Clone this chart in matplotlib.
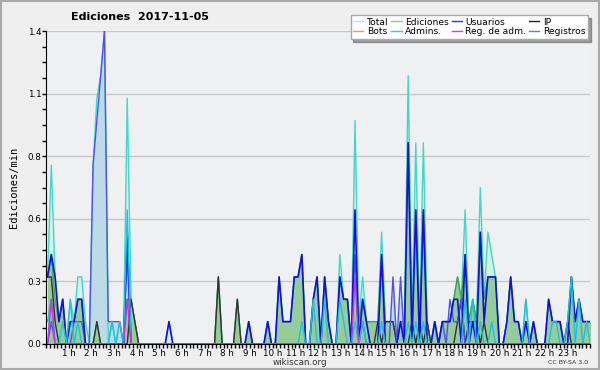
import numpy as np
import matplotlib.pyplot as plt
from matplotlib.lines import Line2D
from matplotlib.ticker import MultipleLocator, FixedLocator

# values per 10 minutes (edits/min), one row of 6 per hour
total = [0.3, 0.8, 0.3, 0.1, 0.2, 0.0,
         0.2, 0.1, 0.3, 0.3, 0.1, 0.0,
         0.8, 1.1, 1.2, 1.4, 0.0, 0.1,
         0.0, 0.1, 0.0, 1.1, 0.2, 0.1,
         0.0, 0.0, 0.0, 0.0, 0.0, 0.0,
         0.0, 0.0, 0.1, 0.0, 0.0, 0.0,
         0.0, 0.0, 0.0, 0.0, 0.0, 0.0,
         0.0, 0.0, 0.0, 0.3, 0.0, 0.0,
         0.0, 0.0, 0.2, 0.0, 0.0, 0.1,
         0.0, 0.0, 0.0, 0.0, 0.1, 0.0,
         0.0, 0.3, 0.1, 0.1, 0.1, 0.3,
         0.3, 0.4, 0.0, 0.0, 0.2, 0.3,
         0.0, 0.3, 0.1, 0.0, 0.0, 0.4,
         0.2, 0.2, 0.0, 1.0, 0.1, 0.3,
         0.1, 0.1, 0.1, 0.1, 0.5, 0.1,
         0.1, 0.1, 0.0, 0.1, 0.1, 1.2,
         0.1, 0.9, 0.1, 0.9, 0.1, 0.0,
         0.1, 0.0, 0.1, 0.1, 0.1, 0.2,
         0.3, 0.2, 0.6, 0.1, 0.2, 0.1,
         0.7, 0.2, 0.5, 0.4, 0.3, 0.0,
         0.0, 0.1, 0.3, 0.1, 0.1, 0.0,
         0.2, 0.0, 0.1, 0.0, 0.0, 0.0,
         0.2, 0.1, 0.1, 0.1, 0.0, 0.1,
         0.3, 0.1, 0.2, 0.1, 0.1, 0.1]

edits = [0.3, 0.4, 0.2, 0.1, 0.2, 0.0,
         0.1, 0.1, 0.2, 0.2, 0.0, 0.0,
         0.0, 0.1, 0.0, 0.0, 0.0, 0.0,
         0.0, 0.0, 0.0, 0.2, 0.2, 0.1,
         0.0, 0.0, 0.0, 0.0, 0.0, 0.0,
         0.0, 0.0, 0.0, 0.0, 0.0, 0.0,
         0.0, 0.0, 0.0, 0.0, 0.0, 0.0,
         0.0, 0.0, 0.0, 0.3, 0.0, 0.0,
         0.0, 0.0, 0.2, 0.0, 0.0, 0.1,
         0.0, 0.0, 0.0, 0.0, 0.1, 0.0,
         0.0, 0.3, 0.1, 0.1, 0.1, 0.3,
         0.3, 0.4, 0.0, 0.0, 0.2, 0.3,
         0.0, 0.3, 0.1, 0.0, 0.0, 0.3,
         0.2, 0.2, 0.0, 0.3, 0.1, 0.2,
         0.1, 0.1, 0.1, 0.1, 0.4, 0.1,
         0.1, 0.1, 0.0, 0.1, 0.1, 0.9,
         0.1, 0.6, 0.1, 0.6, 0.1, 0.0,
         0.1, 0.0, 0.1, 0.1, 0.1, 0.2,
         0.3, 0.2, 0.4, 0.1, 0.2, 0.1,
         0.5, 0.2, 0.3, 0.3, 0.3, 0.0,
         0.0, 0.1, 0.3, 0.1, 0.1, 0.0,
         0.1, 0.0, 0.1, 0.0, 0.0, 0.0,
         0.2, 0.1, 0.1, 0.1, 0.0, 0.1,
         0.3, 0.1, 0.2, 0.1, 0.1, 0.1]

users = [0.3, 0.4, 0.3, 0.1, 0.2, 0.0,
         0.1, 0.1, 0.2, 0.2, 0.0, 0.0,
         0.0, 0.0, 0.0, 0.0, 0.0, 0.0,
         0.0, 0.0, 0.0, 0.5, 0.0, 0.0,
         0.0, 0.0, 0.0, 0.0, 0.0, 0.0,
         0.0, 0.0, 0.1, 0.0, 0.0, 0.0,
         0.0, 0.0, 0.0, 0.0, 0.0, 0.0,
         0.0, 0.0, 0.0, 0.0, 0.0, 0.0,
         0.0, 0.0, 0.0, 0.0, 0.0, 0.1,
         0.0, 0.0, 0.0, 0.0, 0.1, 0.0,
         0.0, 0.3, 0.1, 0.1, 0.1, 0.3,
         0.3, 0.4, 0.0, 0.0, 0.2, 0.3,
         0.0, 0.3, 0.1, 0.0, 0.0, 0.3,
         0.2, 0.2, 0.0, 0.6, 0.0, 0.2,
         0.1, 0.0, 0.0, 0.0, 0.4, 0.0,
         0.0, 0.0, 0.0, 0.1, 0.0, 0.9,
         0.0, 0.6, 0.0, 0.6, 0.0, 0.0,
         0.1, 0.0, 0.1, 0.1, 0.1, 0.2,
         0.2, 0.0, 0.4, 0.0, 0.1, 0.0,
         0.5, 0.1, 0.3, 0.3, 0.3, 0.0,
         0.0, 0.1, 0.3, 0.1, 0.1, 0.0,
         0.1, 0.0, 0.1, 0.0, 0.0, 0.0,
         0.2, 0.1, 0.1, 0.1, 0.0, 0.0,
         0.3, 0.1, 0.2, 0.1, 0.1, 0.1]

ip = [0.3, 0.3, 0.1, 0.0, 0.0, 0.0,
      0.0, 0.0, 0.0, 0.0, 0.0, 0.0,
      0.0, 0.1, 0.0, 0.0, 0.0, 0.0,
      0.0, 0.0, 0.0, 0.0, 0.2, 0.1,
      0.0, 0.0, 0.0, 0.0, 0.0, 0.0,
      0.0, 0.0, 0.0, 0.0, 0.0, 0.0,
      0.0, 0.0, 0.0, 0.0, 0.0, 0.0,
      0.0, 0.0, 0.0, 0.3, 0.0, 0.0,
      0.0, 0.0, 0.2, 0.0, 0.0, 0.0,
      0.0, 0.0, 0.0, 0.0, 0.0, 0.0,
      0.0, 0.0, 0.0, 0.0, 0.0, 0.0,
      0.0, 0.0, 0.0, 0.0, 0.0, 0.0,
      0.0, 0.0, 0.0, 0.0, 0.0, 0.0,
      0.0, 0.0, 0.0, 0.0, 0.0, 0.0,
      0.0, 0.0, 0.0, 0.1, 0.0, 0.1,
      0.1, 0.1, 0.0, 0.0, 0.0, 0.0,
      0.1, 0.0, 0.1, 0.0, 0.1, 0.0,
      0.0, 0.0, 0.0, 0.0, 0.0, 0.0,
      0.1, 0.2, 0.0, 0.1, 0.1, 0.1,
      0.0, 0.1, 0.0, 0.0, 0.0, 0.0,
      0.0, 0.0, 0.0, 0.0, 0.0, 0.0,
      0.0, 0.0, 0.0, 0.0, 0.0, 0.0,
      0.0, 0.0, 0.0, 0.0, 0.0, 0.1,
      0.0, 0.0, 0.0, 0.0, 0.0, 0.0]

admins = [0.1, 0.2, 0.0, 0.0, 0.1, 0.0,
          0.2, 0.0, 0.1, 0.0, 0.0, 0.0,
          0.0, 0.0, 0.0, 0.0, 0.0, 0.1,
          0.0, 0.1, 0.0, 0.6, 0.0, 0.0,
          0.0, 0.0, 0.0, 0.0, 0.0, 0.0,
          0.0, 0.0, 0.0, 0.0, 0.0, 0.0,
          0.0, 0.0, 0.0, 0.0, 0.0, 0.0,
          0.0, 0.0, 0.0, 0.0, 0.0, 0.0,
          0.0, 0.0, 0.0, 0.0, 0.0, 0.0,
          0.0, 0.0, 0.0, 0.0, 0.0, 0.0,
          0.0, 0.0, 0.0, 0.0, 0.0, 0.0,
          0.0, 0.1, 0.0, 0.0, 0.2, 0.0,
          0.0, 0.2, 0.0, 0.0, 0.0, 0.2,
          0.1, 0.0, 0.0, 0.1, 0.0, 0.1,
          0.0, 0.0, 0.0, 0.0, 0.1, 0.0,
          0.0, 0.0, 0.0, 0.0, 0.0, 0.1,
          0.0, 0.1, 0.0, 0.1, 0.0, 0.0,
          0.0, 0.0, 0.0, 0.0, 0.0, 0.0,
          0.0, 0.0, 0.2, 0.0, 0.2, 0.0,
          0.1, 0.0, 0.0, 0.1, 0.0, 0.0,
          0.0, 0.0, 0.0, 0.0, 0.0, 0.0,
          0.2, 0.0, 0.0, 0.0, 0.0, 0.0,
          0.0, 0.1, 0.1, 0.0, 0.0, 0.1,
          0.3, 0.0, 0.2, 0.0, 0.1, 0.0]

regadm = [0.0, 0.2, 0.0, 0.0, 0.0, 0.0,
          0.0, 0.0, 0.0, 0.0, 0.0, 0.0,
          0.0, 0.0, 0.0, 0.0, 0.0, 0.0,
          0.0, 0.0, 0.0, 0.2, 0.0, 0.0] + [0.0] * 54 + \
         [0.0, 0.0, 0.0, 0.3, 0.0, 0.0] + [0.0] * 60

logs = [0.0, 0.1, 0.0, 0.0, 0.0, 0.0,
        0.0, 0.1, 0.1, 0.1, 0.0, 0.0,
        0.8, 1.0, 1.2, 1.4, 0.1, 0.1,
        0.1, 0.1, 0.0, 0.4, 0.0, 0.0] + [0.0] * 54 + \
       [0.0, 0.0, 0.0, 0.4, 0.0, 0.1] + [0.0] * 6 + \
       [0.0, 0.3, 0.0, 0.3, 0.0, 0.0] + [0.0] * 6 + \
       [0.0, 0.0, 0.1, 0.0, 0.2, 0.1, 0.1, 0.2, 0.0, 0.0, 0.0, 0.0] + [0.0] * 30

hour_labels = ["%d h" % h for h in range(1, 24)]

t = 0.066 + np.arange(len(total)) * 0.1675

fig = plt.figure(figsize=(6, 3.7), dpi=100, facecolor="#efefef")
ax = fig.add_axes([0.0767, 0.0703, 0.9066, 0.8457])
ax.set_facecolor("#eff0f2")

ax.fill_between(t, total, color="#d4f1ea", lw=0)
ax.plot(t, total, color="#40d8c8", lw=1)
ax.fill_between(t, logs, color="#bcdbe6", lw=0)
ax.fill_between(t, edits, color="#96cc98", lw=0)
ax.plot(t, edits, color="#3aa84a", lw=1)
ax.plot(t, ip, color="#333333", lw=1)
ax.plot(t, logs, color="#5050f0", lw=1)
ax.plot(t, users, color="#1010e0", lw=1.2)
ax.plot(t, admins, color="#20c0e0", lw=1)
ax.plot(t, regadm, color="#cc30e0", lw=1)

ax.set_xlim(0, 24)
ax.set_ylim(0, 1.4)
ax.yaxis.set_major_locator(FixedLocator([0, 0.28, 0.56, 0.84, 1.12, 1.4]))
ax.set_yticklabels(["0.0", "0.3", "0.6", "0.8", "1.1", "1.4"])
ax.yaxis.set_minor_locator(MultipleLocator(0.07))
ax.set_xticks(range(1, 24))
ax.set_xticklabels(hour_labels)
ax.xaxis.set_minor_locator(MultipleLocator(1 / 6))
ax.tick_params(axis="both", which="both", length=3, width=1, labelsize=6.3, pad=0.5)
ax.grid(axis="y", color="#c8c8c8", lw=1)
ax.set_axisbelow(True)
for s in ["top", "right"]:
    ax.spines[s].set_visible(False)
ax.set_ylabel("Ediciones/min", family="DejaVu Sans Mono", fontsize=7.5, labelpad=6)

fig.text(0.233, 0.953, "Ediciones  2017-11-05", ha="center", va="center",
         fontsize=8, fontweight="bold")
fig.text(0.5, 0.021, "wikiscan.org", ha="center", va="center", fontsize=6.3, color="#333333")
fig.text(0.98, 0.019, "CC BY-SA 3.0", ha="right", va="center", fontsize=4.5, color="#333333")

names = ["Total", "Bots", "Ediciones", "Admins.", "Usuarios", "Reg. de adm.", "IP", "Registros"]
colors = ["#a8ece2", "#f0a030", "#88d088", "#40c8e0", "#3030e0", "#d040e0", "#222222", "#7070f0"]
handles = [Line2D([0], [0], color=c, lw=1) for c in colors]
leg = fig.legend(handles, names, ncol=4, loc="upper right", bbox_to_anchor=(0.988, 0.972),
                 fontsize=6.6, handlelength=1.1, handletextpad=0.4, columnspacing=0.3,
                 labelspacing=0.05, borderpad=0.3, fancybox=False, shadow=True,
                 framealpha=1, edgecolor="#aaaaaa")

fig.patches.append(plt.Rectangle((0.001, 0.002), 0.997, 0.995, transform=fig.transFigure,
                                 fill=False, edgecolor="#aaaaaa", lw=1.5))

fig.savefig("out.png", dpi=100, facecolor=fig.get_facecolor())
